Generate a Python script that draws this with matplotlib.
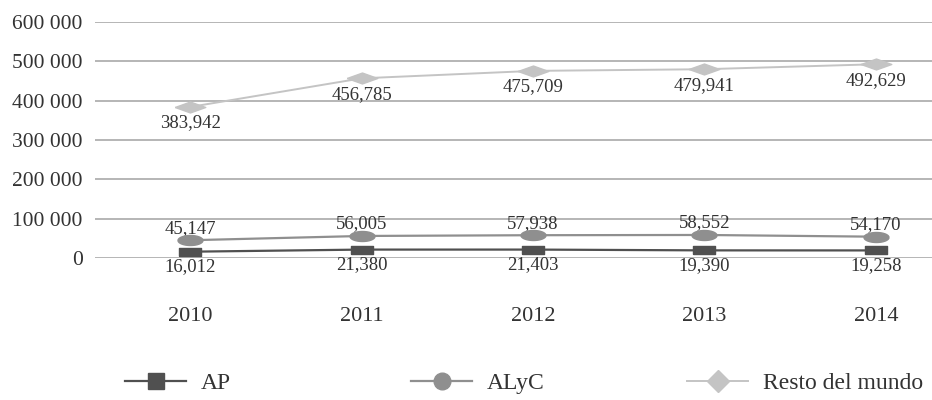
import matplotlib
matplotlib.use("Agg")
import matplotlib.pyplot as plt
from matplotlib.lines import Line2D
import numpy as np

years = ["2010", "2011", "2012", "2013", "2014"]
ap = [16012, 21380, 21403, 19390, 19258]
alyc = [45147, 56005, 57938, 58552, 54170]
resto = [383942, 456785, 475709, 479941, 492629]
yticks = [0, 100000, 200000, 300000, 400000, 500000, 600000]
ytick_labels = ["0", "100 000", "200 000", "300 000", "400 000", "500 000", "600 000"]
series_names = ["AP", "ALyC", "Resto del mundo"]

plt.rcParams['font.family'] = ['Liberation Serif', 'DejaVu Serif']

fig = plt.figure(figsize=(9.32, 4.0), dpi=100)
ax = fig.add_axes([0.102, 0.355, 0.898, 0.59])

x = list(range(len(years)))
c_ap, c_alyc, c_resto = "#505050", "#8f8f8f", "#c4c4c4"

ax.plot(x, ap, color=c_ap, lw=1.6, clip_on=False, zorder=3)
ax.plot(x, alyc, color=c_alyc, lw=1.6, clip_on=False, zorder=3)
ax.plot(x, resto, color=c_resto, lw=1.4, clip_on=False, zorder=3)

# wide flat markers
sq = [(-1.5, -0.5), (1.5, -0.5), (1.5, 0.5), (-1.5, 0.5), (-1.5, -0.5)]
t = np.linspace(0, 2*np.pi, 40)
ell = list(zip(1.25*np.cos(t), 0.5*np.sin(t)))
diamond = [(-1.4, 0), (0, -0.5), (1.4, 0), (0, 0.5), (-1.4, 0)]
ax.plot(x, ap, ls="none", marker=sq, ms=16, color=c_ap, clip_on=False, zorder=4)
ax.plot(x, alyc, ls="none", marker=ell, ms=18, color=c_alyc, clip_on=False, zorder=4)
ax.plot(x, resto, ls="none", marker=diamond, ms=22, color=c_resto, clip_on=False, zorder=4)

fs = 13.5
tc = "#333333"
for xi, v in zip(x, resto):
    ax.annotate(f"{v:,}", (xi, v), xytext=(0, -16), textcoords="offset pixels",
                ha="center", va="center", fontsize=fs, color=tc)
for xi, v in zip(x, alyc):
    ax.annotate(f"{v:,}", (xi, v), xytext=(0, 12), textcoords="offset pixels",
                ha="center", va="center", fontsize=fs, color=tc)
for xi, v in zip(x, ap):
    ax.annotate(f"{v:,}", (xi, v), xytext=(0, -15), textcoords="offset pixels",
                ha="center", va="center", fontsize=fs, color=tc)

ax.set_ylim(0, 600000)
ax.set_xlim(-0.554, 4.327)
ax.set_yticks(yticks)
ax.set_yticklabels(ytick_labels, fontsize=15.5, color=tc)
ax.set_xticks(x)
ax.set_xticklabels(years, fontsize=16, color=tc)
ax.tick_params(axis="x", length=0, pad=35)
ax.tick_params(axis="y", length=0, pad=9)
ax.grid(axis="y", color="#b0b0b0", lw=1.3)
ax.set_axisbelow(True)
for s in ax.spines.values():
    s.set_visible(False)

handles = [
    Line2D([], [], color=c_ap, lw=1.6, marker="s", ms=12),
    Line2D([], [], color=c_alyc, lw=1.6, marker="o", ms=12),
    Line2D([], [], color=c_resto, lw=1.4, marker="D", ms=11),
]
legend_x = [125 / 932, 411 / 932, 687 / 932]
for h, name, lx in zip(handles, series_names, legend_x):
    leg = fig.legend([h], [name], loc="center left", bbox_to_anchor=(lx, 0.0425),
                     frameon=False, fontsize=17, handlelength=2.6,
                     handletextpad=0.6, borderpad=0, borderaxespad=0,
                     labelcolor=tc)

fig.savefig("out.png", dpi=100)
